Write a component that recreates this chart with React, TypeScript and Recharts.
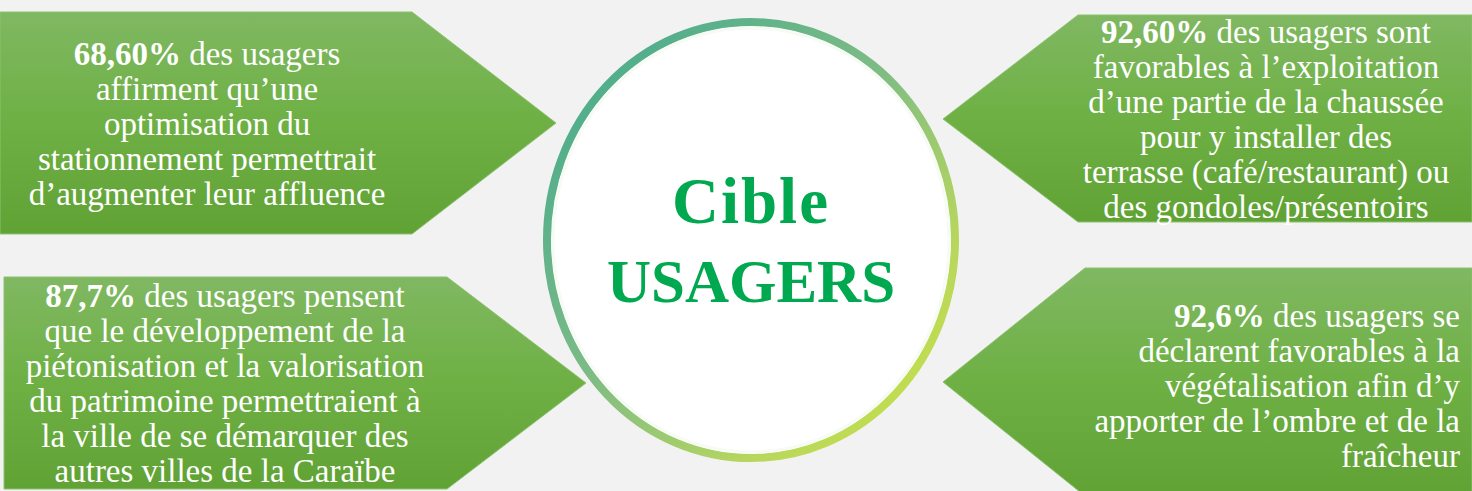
import { ScatterChart, Scatter, XAxis, YAxis } from 'recharts'

const W = 1472
const H = 491

// card content
const percentLabels = ['68,60%', '87,7%', '92,60%', '92,6%']
const cardLines = [
  [' des usagers', 'affirment qu\u2019une', 'optimisation du', 'stationnement permettrait', 'd\u2019augmenter leur affluence'],
  [' des usagers pensent', 'que le développement de la', 'piétonisation et la valorisation', 'du patrimoine permettraient à', 'la ville de se démarquer des', 'autres villes de la Caraïbe'],
  [' des usagers sont', 'favorables à l\u2019exploitation', 'd\u2019une partie de la chaussée', 'pour y installer des', 'terrasse (café/restaurant) ou', 'des gondoles/présentoirs'],
  [' des usagers se', 'déclarent favorables à la', 'végétalisation afin d\u2019y', 'apporter de l\u2019ombre et de la', 'fraîcheur'],
]
const centerTitle = ['Cible', 'USAGERS']

// layout (pixels) of each arrow, kept apart from the content
const cardLayout = [
  { tipX: 556, tipY: 123, top: 12, bottom: 234, edge: 0, bodyEnd: 412, textX: 207, anchor: 'middle', base: 65 },
  { tipX: 586, tipY: 383, top: 277, bottom: 489, edge: 4, bodyEnd: 447, textX: 225, anchor: 'middle', base: 307 },
  { tipX: 943, tipY: 119, top: 15, bottom: 222, edge: 1472, bodyEnd: 1078, textX: 1266, anchor: 'middle', base: 43 },
  { tipX: 943, tipY: 382, top: 268, bottom: 496, edge: 1472, bodyEnd: 1085, textX: 1460, anchor: 'end', base: 327 },
]
const circleLayout = { x: 751, y: 240, rx: 204, ry: 218 }

const cardData = cardLayout.map((c, i) => ({ x: c.tipX, y: c.tipY, idx: i }))
const circleData = [{ x: circleLayout.x, y: circleLayout.y }]

const FONT = '"Liberation Serif", "Times New Roman", serif'
const LINE_H = 35

function ArrowShape(props: any) {
  const { cx, cy, payload } = props
  const i = payload.idx
  const c = cardLayout[i]
  const dx = cx - c.tipX
  const dy = cy - c.tipY
  const pts = [
    [c.edge, c.top],
    [c.bodyEnd, c.top],
    [c.tipX, c.tipY],
    [c.bodyEnd, c.bottom],
    [c.edge, c.bottom],
  ]
    .map(([px, py]) => `${px + dx},${py + dy}`)
    .join(' ')
  const lines = cardLines[i]
  return (
    <g>
      <polygon points={pts} fill="url(#cardGrad)" stroke="#8cc26f" strokeWidth={1} />
      <text
        x={c.textX + dx}
        y={c.base + dy}
        textAnchor={c.anchor}
        fontFamily={FONT}
        fontSize={33}
        fill="#ffffff"
      >
        <tspan fontWeight="bold">{percentLabels[i]}</tspan>
        <tspan>{lines[0]}</tspan>
      </text>
      {lines.slice(1).map((l, k) => (
        <text
          key={k}
          x={c.textX + dx}
          y={c.base + dy + LINE_H * (k + 1)}
          textAnchor={c.anchor}
          fontFamily={FONT}
          fontSize={33}
          fill="#ffffff"
        >
          {l}
        </text>
      ))}
    </g>
  )
}

function CircleShape(props: any) {
  const { cx, cy } = props
  return (
    <g>
      <ellipse cx={cx} cy={cy} rx={circleLayout.rx} ry={circleLayout.ry} fill="#ffffff" stroke="url(#ringGrad)" strokeWidth={8} />
      <ellipse cx={cx} cy={cy} rx={circleLayout.rx - 6} ry={circleLayout.ry - 6} fill="none" stroke="#f6fbf4" strokeWidth={3} />
      <text x={cx} y={cy - 17} textAnchor="middle" fontFamily={FONT} fontWeight="bold" fontSize={65} letterSpacing={2} fill="#00a84f">
        {centerTitle[0]}
      </text>
      <text x={cx} y={cy + 62} textAnchor="middle" fontFamily={FONT} fontWeight="bold" fontSize={61} fill="#00a84f">
        {centerTitle[1]}
      </text>
    </g>
  )
}

export default function App() {
  return (
    <div style={{ position: 'fixed', top: 0, left: 0, width: W, height: H, background: '#f2f2f2' }}>
      <ScatterChart width={W} height={H} margin={{ top: 0, right: 0, bottom: 0, left: 0 }}>
        <defs>
          <linearGradient id="cardGrad" x1="0" y1="0" x2="0" y2="1">
            <stop offset="0%" stopColor="#80b862" />
            <stop offset="50%" stopColor="#6eb044" />
            <stop offset="100%" stopColor="#60a234" />
          </linearGradient>
          <linearGradient id="ringGrad" x1="0" y1="0" x2="1" y2="1">
            <stop offset="0%" stopColor="#3fa88e" />
            <stop offset="45%" stopColor="#7cbb86" />
            <stop offset="75%" stopColor="#b7d65e" />
            <stop offset="100%" stopColor="#cde440" />
          </linearGradient>
        </defs>
        <XAxis type="number" dataKey="x" domain={[0, W]} hide />
        <YAxis type="number" dataKey="y" domain={[0, H]} reversed hide />
        <Scatter data={cardData} shape={ArrowShape} isAnimationActive={false} />
        <Scatter data={circleData} shape={CircleShape} isAnimationActive={false} />
      </ScatterChart>
    </div>
  )
}
